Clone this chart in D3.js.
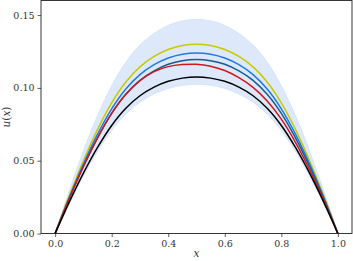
<!DOCTYPE html>
<html><head><meta charset="utf-8">
<script src="https://cdn.jsdelivr.net/npm/d3@7"></script>
<style>body{margin:0;background:#fff}svg{display:block}</style>
</head><body>
<script>
const xs = [0,0.05,0.1,0.15,0.2,0.25,0.3,0.35,0.4,0.45,0.5,0.55,0.6,0.65,0.7,0.75,0.8,0.85,0.9,0.95,1];
const bandUpper = [0,0.0294,0.0566,0.0809,0.1014,0.1176,0.1294,0.1374,0.1429,0.146,0.147,0.146,0.1429,0.1374,0.1294,0.1176,0.1014,0.0809,0.0566,0.0294,0];
const bandLower = [0,0.0205,0.0395,0.0564,0.0707,0.082,0.0902,0.0958,0.0996,0.1018,0.1025,0.1018,0.0996,0.0958,0.0902,0.082,0.0707,0.0564,0.0395,0.0205,0];
const yellowVals = [0,0.026,0.05,0.0715,0.0897,0.104,0.1144,0.1216,0.1264,0.1291,0.130,0.1291,0.1264,0.1216,0.1144,0.104,0.0897,0.0715,0.05,0.026,0];
const blueVals = [0,0.0248,0.0477,0.0682,0.0856,0.0992,0.1091,0.1159,0.1205,0.1231,0.124,0.1231,0.1205,0.1159,0.1091,0.0992,0.0856,0.0682,0.0477,0.0248,0];
const darkBlueVals = [0,0.0239,0.046,0.0657,0.0825,0.0956,0.1052,0.1117,0.1162,0.1187,0.1195,0.1187,0.1162,0.1117,0.1052,0.0956,0.0825,0.0657,0.046,0.0239,0];
const redVals = [0,0.0239,0.046,0.0657,0.0825,0.0956,0.105,0.1112,0.1146,0.116,0.1162,0.1149,0.1119,0.107,0.1003,0.091,0.0785,0.0626,0.0438,0.0228,0];
const blackVals = [0,0.0215,0.0414,0.0591,0.0742,0.086,0.0946,0.1005,0.1045,0.1067,0.1075,0.1067,0.1045,0.1005,0.0946,0.086,0.0742,0.0591,0.0414,0.0215,0];
const xTicks = [0,0.2,0.4,0.6,0.8,1.0];
const yTicks = [0,0.05,0.10,0.15];

const W=353,H=261;
const FONT="DejaVu Serif";
const svg=d3.select("body").append("svg").attr("width",W).attr("height",H);
const x=d3.scaleLinear().domain([-0.05,1.05]).range([41,352]);
const y=d3.scaleLinear().domain([0,0.16]).range([233.5,0.5]);

const area=d3.area().x((d,i)=>x(xs[i])).y0((d,i)=>y(bandLower[i])).y1((d,i)=>y(bandUpper[i])).curve(d3.curveCatmullRom);
svg.append("path").datum(xs).attr("d",area).attr("fill","#dde9fa").attr("stroke","#d0e1f8").attr("stroke-width",0.8);

const line=vals=>d3.line().x((d,i)=>x(xs[i])).y((d,i)=>y(vals[i])).curve(d3.curveCatmullRom)(xs);
const series=[[yellowVals,"#c9c900"],[blueVals,"#1f78e6"],[darkBlueVals,"#1c5a8c"],[redVals,"#d0181c"],[blackVals,"#000000"]];
series.forEach(([v,c])=>svg.append("path").attr("d",line(v)).attr("fill","none").attr("stroke",c).attr("stroke-width",1.5));

const xa=svg.append("g").attr("transform","translate(0,233.5)").call(d3.axisBottom(x).tickValues(xTicks).tickFormat(d3.format(".1f")).tickSize(3.5).tickPadding(3));
const ya=svg.append("g").attr("transform","translate(41,0)").call(d3.axisLeft(y).tickValues(yTicks).tickFormat(d3.format(".2f")).tickSize(3.5).tickPadding(3));
[xa,ya].forEach(a=>{a.attr("font-family",FONT).attr("font-size",9.5);a.select(".domain").remove();a.selectAll("line").attr("stroke","#333").attr("stroke-width",0.8);a.selectAll("text").attr("fill","#333");});
svg.append("rect").attr("x",41).attr("y",0.5).attr("width",311).attr("height",233).attr("fill","none").attr("stroke","#222").attr("stroke-width",0.9);

svg.append("text").attr("x",196.5).attr("y",257).attr("text-anchor","middle").attr("font-family",FONT).attr("font-style","italic").attr("font-size",10.5).attr("fill","#333").text("x");
svg.append("text").attr("transform","translate(10,117) rotate(-90)").attr("text-anchor","middle").attr("font-family",FONT).attr("font-size",10.5).attr("fill","#333")
  .html('<tspan font-style="italic">u</tspan>(<tspan font-style="italic">x</tspan>)');
</script>
</body></html>
